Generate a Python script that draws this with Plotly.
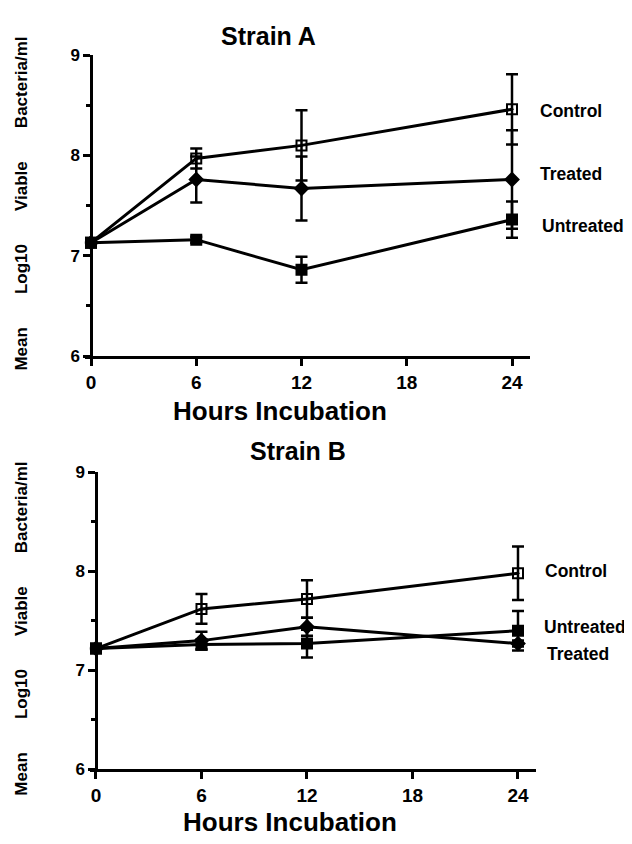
import plotly.graph_objects as go

hours = [0, 6, 12, 24]
x_ticks = [0, 6, 12, 18, 24]
y_ticks = [6, 7, 8, 9]

# Strain A
ctrl_a = [7.13, 7.97, 8.10, 8.46]
ctrl_a_err = [0, 0.10, 0.35, 0.35]
trt_a = [7.13, 7.76, 7.67, 7.76]
trt_a_err = [0, 0.23, 0.32, 0.49]
unt_a = [7.13, 7.16, 6.86, 7.36]
unt_a_err = [0, 0.03, 0.13, 0.18]

# Strain B
ctrl_b = [7.22, 7.62, 7.72, 7.98]
ctrl_b_err = [0, 0.15, 0.19, 0.27]
trt_b = [7.22, 7.30, 7.44, 7.27]
trt_b_err = [0, 0.09, 0.09, 0.03]
unt_b = [7.22, 7.26, 7.27, 7.40]
unt_b_err = [0, 0.05, 0.14, 0.20]

OFF = 8  # default page body margin
W, H = 632 - OFF, 844 - 2 * OFF
FONT = "Liberation Sans, Arial, sans-serif"

def px(v):
    return (v - OFF) / W

def py(v):
    return 1 - (v - OFF) / H

fig = go.Figure()

series = [
    ("Control", ctrl_a, ctrl_a_err, "square-open-dot", "x", "y"),
    ("Treated", trt_a, trt_a_err, "diamond", "x", "y"),
    ("Untreated", unt_a, unt_a_err, "square", "x", "y"),
    ("Control", ctrl_b, ctrl_b_err, "square-open-dot", "x2", "y2"),
    ("Treated", trt_b, trt_b_err, "diamond", "x2", "y2"),
    ("Untreated", unt_b, unt_b_err, "square", "x2", "y2"),
]
for name, vals, err, sym, xa, ya in series:
    fig.add_trace(go.Scatter(
        x=hours, y=vals, name=name, mode="lines+markers",
        xaxis=xa, yaxis=ya,
        line=dict(color="black", width=3),
        marker=dict(symbol=sym, size=10, color="black",
                    line=dict(color="black", width=2)),
        error_y=dict(type="data", array=err, visible=True,
                     color="black", thickness=2.5, width=6),
        showlegend=False,
    ))

# panel geometry (pixels in the page)
top_x0, top_x24 = 91, 512
bot_x0, bot_x24 = 96, 518
top_y9, top_y6 = 47, 355
bot_y9, bot_y6 = 474, 778
xmin, xmax = -0.35, 25.0

def xdomain(x0, x24):
    s = (x24 - x0) / 24.0
    return [px(x0 + xmin * s), px(x0 + xmax * s)]

xax = dict(range=[xmin, xmax], showgrid=False, zeroline=False,
           showline=True, linecolor="black", linewidth=2.5,
           ticks="outside", ticklen=7, tickwidth=2.5, tickcolor="black",
           tickvals=x_ticks, ticktext=[str(t) for t in x_ticks],
           tickfont=dict(family=FONT, size=19, color="black", weight="bold"))
yax = dict(range=[6, 9], showgrid=False, zeroline=False,
           showline=True, linecolor="black", linewidth=2.5,
           ticks="outside", ticklen=7, tickwidth=2.5, tickcolor="black",
           tickvals=y_ticks, ticktext=[str(t) for t in y_ticks],
           tickfont=dict(family=FONT, size=17, color="black", weight="bold"),
           minor=dict(dtick=0.5, ticks="outside", ticklen=4,
                      tickwidth=2.5, tickcolor="black"),
           anchor="free")

fig.update_layout(
    width=W, height=H,
    margin=dict(l=0, r=0, t=0, b=0),
    paper_bgcolor="white", plot_bgcolor="white",
    xaxis=dict(xax, domain=xdomain(top_x0, top_x24), anchor="y"),
    yaxis=dict(yax, domain=[py(top_y6), py(top_y9)], position=px(top_x0)),
    xaxis2=dict(xax, domain=xdomain(bot_x0, bot_x24), anchor="y2"),
    yaxis2=dict(yax, domain=[py(bot_y6), py(bot_y9)], position=px(bot_x0)),
)

ytitle = "\u00a0" * 7
ytitle = ytitle.join(["Mean", "Log10", "Viable", "Bacteria/ml"])

def ann(text, x, y, size, angle=0, xanchor="center"):
    fig.add_annotation(text=text, x=px(x), y=py(y), xref="paper", yref="paper",
                       showarrow=False, textangle=angle, xanchor=xanchor,
                       yanchor="middle",
                       font=dict(family=FONT, size=size, color="black", weight="bold"))

ann("Strain A", 268, 27, 25)
ann("Strain B", 298, 452, 25)
ann("Hours Incubation", 280, 411, 26)
ann("Hours Incubation", 290, 832, 26)
ann(ytitle, 22, 199, 17, angle=-90)
ann(ytitle, 22, 634, 17, angle=-90)

def label(text, x, y, ya):
    fig.add_annotation(text=text, x=px(x), y=y, xref="paper", yref=ya,
                       showarrow=False, xanchor="left", yanchor="middle",
                       font=dict(family=FONT, size=17.5, color="black", weight="bold"))

label("Control", 538, 8.44, "y")
label("Treated", 538, 7.81, "y")
label("Untreated", 540, 7.30, "y")
label("Control", 543, 8.00, "y2")
label("Untreated", 542, 7.44, "y2")
label("Treated", 545, 7.16, "y2")

fig.write_html("out.html")
